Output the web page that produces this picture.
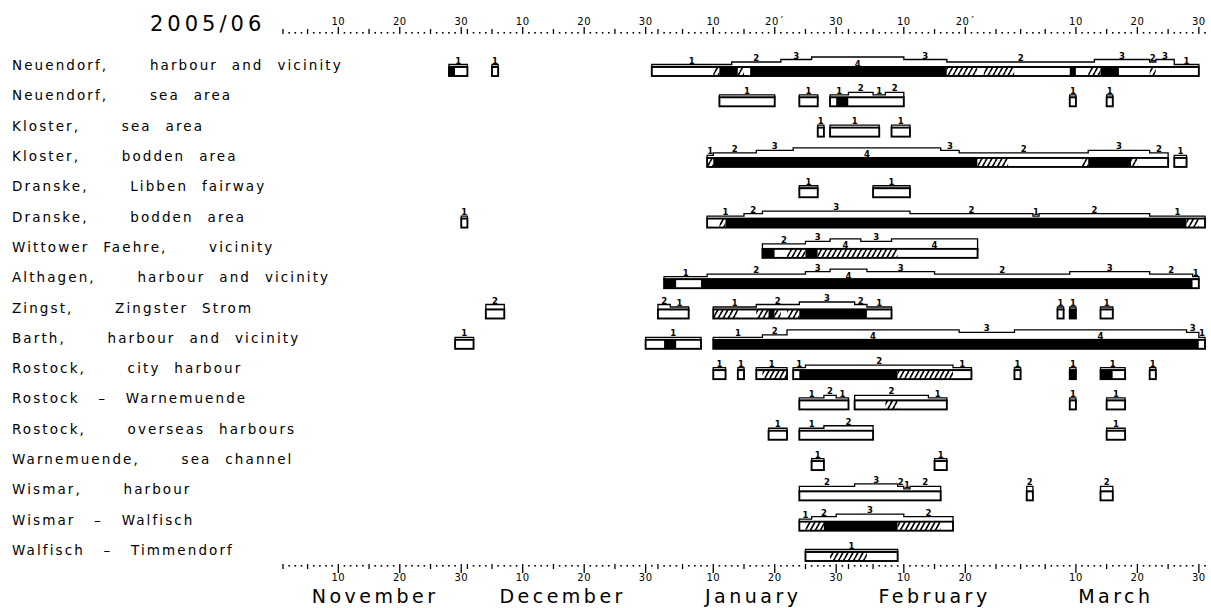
<!DOCTYPE html>
<html>
<head>
<meta charset="utf-8">
<script src="https://cdn.jsdelivr.net/npm/d3@7"></script>
<style>
html, body { margin: 0; padding: 0; background: #fff; }
svg { display: block; }
text { font-family: "DejaVu Sans", sans-serif; }
</style>
</head>
<body>
<div id="chart"></div>
<script>
const width = 1211;
const height = 608;

const season = "2005/06";

const stations = [
	"Neuendorf, harbour and vicinity",
	"Neuendorf, sea area",
	"Kloster, sea area",
	"Kloster, bodden area",
	"Dranske, Libben fairway",
	"Dranske, bodden area",
	"Wittower Faehre, vicinity",
	"Althagen, harbour and vicinity",
	"Zingst, Zingster Strom",
	"Barth, harbour and vicinity",
	"Rostock, city harbour",
	"Rostock – Warnemuende",
	"Rostock, overseas harbours",
	"Warnemuende, sea channel",
	"Wismar, harbour",
	"Wismar – Walfisch",
	"Walfisch – Timmendorf",
];

const months = ["November", "December", "January", "February", "March"];

// ice cover: [station, first day, day after last, type] w = white, b = black, h = hatched
const iceCover = [
	[0, "11-28", "11-29", "b"], [0, "11-29", "12-01", "w"], [0, "12-05", "12-06", "w"],
	[0, "12-31", "01-10", "w"], [0, "01-10", "01-11", "h"], [0, "01-11", "01-14", "b"],
	[0, "01-14", "01-15", "h"], [0, "01-15", "01-16", "w"], [0, "01-16", "02-17", "b"],
	[0, "02-17", "02-22", "h"], [0, "02-22", "02-23", "w"], [0, "02-23", "02-28", "h"],
	[0, "02-28", "03-09", "w"], [0, "03-09", "03-10", "b"], [0, "03-10", "03-12", "w"],
	[0, "03-12", "03-14", "h"], [0, "03-14", "03-17", "b"], [0, "03-17", "03-22", "w"],
	[0, "03-22", "03-23", "h"], [0, "03-23", "03-30", "w"],

	[1, "01-11", "01-20", "w"], [1, "01-24", "01-27", "w"], [1, "01-29", "01-30", "w"],
	[1, "01-30", "02-01", "b"], [1, "02-01", "02-10", "w"], [1, "03-09", "03-10", "w"],
	[1, "03-15", "03-16", "w"],

	[2, "01-27", "01-28", "w"], [2, "01-29", "02-06", "w"], [2, "02-08", "02-11", "w"],

	[3, "01-09", "01-10", "h"], [3, "01-10", "02-22", "b"], [3, "02-22", "02-27", "h"],
	[3, "02-27", "03-11", "w"], [3, "03-11", "03-12", "h"], [3, "03-12", "03-19", "b"],
	[3, "03-19", "03-20", "h"], [3, "03-20", "03-25", "w"], [3, "03-26", "03-28", "w"],

	[4, "01-24", "01-27", "w"], [4, "02-05", "02-11", "w"],

	[5, "11-30", "12-01", "w"], [5, "01-09", "01-11", "w"], [5, "01-11", "01-12", "h"],
	[5, "01-12", "03-28", "b"], [5, "03-28", "03-30", "h"], [5, "03-30", "03-31", "w"],

	[6, "01-18", "01-20", "b"], [6, "01-20", "01-22", "w"], [6, "01-22", "01-25", "h"],
	[6, "01-25", "01-27", "b"], [6, "01-27", "02-09", "h"], [6, "02-09", "02-22", "w"],

	[7, "01-02", "01-04", "b"], [7, "01-04", "01-08", "w"], [7, "01-08", "03-29", "b"],
	[7, "03-29", "03-30", "w"],

	[8, "12-04", "12-07", "w"], [8, "01-01", "01-06", "w"], [8, "01-10", "01-14", "h"],
	[8, "01-14", "01-17", "w"], [8, "01-17", "01-19", "h"], [8, "01-19", "01-20", "b"],
	[8, "01-20", "01-21", "h"], [8, "01-21", "01-22", "w"], [8, "01-22", "01-24", "h"],
	[8, "01-24", "02-04", "b"], [8, "02-04", "02-08", "w"], [8, "03-07", "03-08", "w"],
	[8, "03-09", "03-10", "b"], [8, "03-14", "03-16", "w"],

	[9, "11-29", "12-02", "w"], [9, "12-30", "01-02", "w"], [9, "01-02", "01-04", "b"],
	[9, "01-04", "01-08", "w"], [9, "01-10", "03-30", "b"], [9, "03-30", "03-31", "w"],

	[10, "01-10", "01-12", "w"], [10, "01-14", "01-15", "w"], [10, "01-17", "01-18", "w"],
	[10, "01-18", "01-22", "h"], [10, "01-23", "01-24", "w"], [10, "01-24", "02-09", "b"],
	[10, "02-09", "02-18", "h"], [10, "02-18", "02-21", "w"], [10, "02-28", "03-01", "w"],
	[10, "03-09", "03-10", "b"], [10, "03-14", "03-16", "b"], [10, "03-16", "03-18", "w"],
	[10, "03-22", "03-23", "w"],

	[11, "01-24", "02-01", "w"], [11, "02-02", "02-07", "w"], [11, "02-07", "02-09", "h"],
	[11, "02-09", "02-17", "w"], [11, "03-09", "03-10", "w"], [11, "03-15", "03-18", "w"],

	[12, "01-19", "01-22", "w"], [12, "01-24", "02-05", "w"], [12, "03-15", "03-18", "w"],

	[13, "01-26", "01-28", "w"], [13, "02-15", "02-17", "w"],

	[14, "01-24", "02-16", "w"], [14, "03-02", "03-03", "w"], [14, "03-14", "03-16", "w"],

	[15, "01-24", "01-25", "w"], [15, "01-25", "01-28", "h"], [15, "01-28", "02-09", "b"],
	[15, "02-09", "02-16", "h"], [15, "02-16", "02-18", "w"],

	[16, "01-25", "01-29", "w"], [16, "01-29", "02-04", "h"], [16, "02-04", "02-09", "w"],
];

// ice thickness class: [station, first day, day after last, class]
const iceThickness = [
	[0, "11-28", "12-01", 1], [0, "12-05", "12-06", 1],
	[0, "12-31", "01-13", 1], [0, "01-13", "01-21", 2], [0, "01-21", "01-26", 3],
	[0, "01-26", "02-10", 4], [0, "02-10", "02-17", 3], [0, "02-17", "03-13", 2],
	[0, "03-13", "03-22", 3], [0, "03-22", "03-23", 2], [0, "03-23", "03-26", 3],
	[0, "03-26", "03-30", 1],

	[1, "01-11", "01-20", 1], [1, "01-24", "01-27", 1], [1, "01-29", "02-01", 1],
	[1, "02-01", "02-05", 2], [1, "02-05", "02-07", 1], [1, "02-07", "02-10", 2],
	[1, "03-09", "03-10", 1], [1, "03-15", "03-16", 1],

	[2, "01-27", "01-28", 1], [2, "01-29", "02-06", 1], [2, "02-08", "02-11", 1],

	[3, "01-09", "01-10", 1], [3, "01-10", "01-17", 2], [3, "01-17", "01-23", 3],
	[3, "01-23", "02-16", 4], [3, "02-16", "02-19", 3], [3, "02-19", "03-12", 2],
	[3, "03-12", "03-22", 3], [3, "03-22", "03-25", 2], [3, "03-26", "03-28", 1],

	[4, "01-24", "01-27", 1], [4, "02-05", "02-11", 1],

	[5, "11-30", "12-01", 1], [5, "01-09", "01-15", 1], [5, "01-15", "01-18", 2],
	[5, "01-18", "02-11", 3], [5, "02-11", "03-03", 2], [5, "03-03", "03-04", 1],
	[5, "03-04", "03-22", 2], [5, "03-22", "03-31", 1],

	[6, "01-18", "01-25", 2], [6, "01-25", "01-29", 3], [6, "01-29", "02-03", 4],
	[6, "02-03", "02-08", 3], [6, "02-08", "02-22", 4],

	[7, "01-02", "01-09", 1], [7, "01-09", "01-25", 2], [7, "01-25", "01-29", 3],
	[7, "01-29", "02-04", 4], [7, "02-04", "02-15", 3], [7, "02-15", "03-09", 2],
	[7, "03-09", "03-22", 3], [7, "03-22", "03-29", 2], [7, "03-29", "03-30", 1],

	[8, "12-04", "12-07", 2], [8, "01-01", "01-03", 2], [8, "01-03", "01-06", 1],
	[8, "01-10", "01-17", 1], [8, "01-17", "01-24", 2], [8, "01-24", "02-02", 3],
	[8, "02-02", "02-04", 2], [8, "02-04", "02-08", 1], [8, "03-07", "03-08", 1],
	[8, "03-09", "03-10", 1], [8, "03-14", "03-16", 1],

	[9, "11-29", "12-02", 1], [9, "12-30", "01-08", 1], [9, "01-10", "01-18", 1],
	[9, "01-18", "01-22", 2], [9, "01-22", "02-19", 4], [9, "02-19", "02-28", 3],
	[9, "02-28", "03-28", 4], [9, "03-28", "03-30", 3], [9, "03-30", "03-31", 1],

	[10, "01-10", "01-12", 1], [10, "01-14", "01-15", 1], [10, "01-17", "01-22", 1],
	[10, "01-23", "01-25", 1], [10, "01-25", "02-18", 2], [10, "02-18", "02-21", 1],
	[10, "02-28", "03-01", 1], [10, "03-09", "03-10", 1], [10, "03-14", "03-18", 1],
	[10, "03-22", "03-23", 1],

	[11, "01-24", "01-28", 1], [11, "01-28", "01-30", 2], [11, "01-30", "02-01", 1],
	[11, "02-02", "02-14", 2], [11, "02-14", "02-17", 1], [11, "03-09", "03-10", 1],
	[11, "03-15", "03-18", 1],

	[12, "01-19", "01-22", 1], [12, "01-24", "01-28", 1], [12, "01-28", "02-05", 2],
	[12, "03-15", "03-18", 1],

	[13, "01-26", "01-28", 1], [13, "02-15", "02-17", 1],

	[14, "01-24", "02-02", 2], [14, "02-02", "02-09", 3], [14, "02-09", "02-10", 2],
	[14, "02-10", "02-11", 1], [14, "02-11", "02-16", 2], [14, "03-02", "03-03", 2],
	[14, "03-14", "03-16", 2],

	[15, "01-24", "01-26", 1], [15, "01-26", "01-30", 2], [15, "01-30", "02-10", 3],
	[15, "02-10", "02-18", 2],

	[16, "01-25", "02-09", 1],
];

const parse = d3.utcParse("%Y-%m-%d");
// season runs Nov 2005 - Mar 2006
const day = (s) => parse((+s.slice(0, 2) >= 10 ? "2005-" : "2006-") + s);

const x = d3
	.scaleUtc()
	.domain([day("11-01"), day("03-31")])
	.range([283, 1205]);

const y = d3
	.scaleLinear()
	.domain([0, stations.length - 1])
	.range([67, 552]);

const barH = 9;
const stepH = 2.5;

const svg = d3
	.select("#chart")
	.append("svg")
	.attr("width", width)
	.attr("height", height);

// hatch pattern
const pat = svg
	.append("defs")
	.append("pattern")
	.attr("id", "hatch")
	.attr("patternUnits", "userSpaceOnUse")
	.attr("width", 5)
	.attr("height", 9);
pat.append("rect").attr("width", 5).attr("height", 9).attr("fill", "#fff");
pat.append("path")
	.attr("d", "M0,9 L5,0 M-5,9 L0,0 M5,9 L10,0")
	.attr("stroke", "#000")
	.attr("stroke-width", 1.6);

// title
svg.append("text")
	.attr("x", 150)
	.attr("y", 31)
	.attr("font-size", 21)
	.attr("letter-spacing", 4)
	.text(season);

// station labels (wide gaps after commas, thin gaps round dashes)
svg.append("g")
	.selectAll("text")
	.data(stations)
	.join("text")
	.attr("x", 12)
	.attr("y", (d, i) => y(i) + 3)
	.attr("font-size", 13.5)
	.attr("letter-spacing", 2.1)
	.attr("word-spacing", 7.5)
	.style("white-space", "pre")
	.text((d) => d.replace(/, /g, ",   ").replace(/ – /g, " \u2009–\u2009 "));

// day axis (dots, ticks, labels)
const days = d3.utcDay.range(x.domain()[0], d3.utcDay.offset(x.domain()[1], 1));

function drawAxis(y0, top) {
	const g = svg.append("g");
	days.forEach((d) => {
		const n = d.getUTCDate();
		const px = x(d);
		if (n === 10 || n === 20 || n === 30) {
			g.append("line")
				.attr("x1", px).attr("x2", px)
				.attr("y1", top ? y0 - 6 : y0 - 2)
				.attr("y2", top ? y0 + 1 : y0 + 7)
				.attr("stroke", "#000")
				.attr("stroke-width", 1.3);
			const m = d.getUTCMonth();
			const accent = top && n === 20 && (m === 0 || m === 1);
			g.append("text")
				.attr("x", px)
				.attr("y", top ? y0 - 8 : y0 + 15)
				.attr("text-anchor", "middle")
				.attr("font-size", 10)
				.attr("letter-spacing", 0.5)
				.text(n + (accent ? "´" : ""));
		} else if (n === 1 || n === 5 || n === 15 || n === 25) {
			g.append("line")
				.attr("x1", px).attr("x2", px)
				.attr("y1", top ? y0 - 4 : y0 - 2)
				.attr("y2", top ? y0 + 1 : y0 + 3)
				.attr("stroke", "#000")
				.attr("stroke-width", 1.3);
		} else {
			g.append("rect")
				.attr("x", px - 0.8)
				.attr("y", y0 - 1)
				.attr("width", 1.6)
				.attr("height", 1.6)
				.attr("fill", "#000");
		}
	});
}
drawAxis(33, true);
drawAxis(566, false);

// month names
svg.append("g")
	.selectAll("text")
	.data(months)
	.join("text")
	.attr("x", (d, i) => {
		const a = d3.utcMonth.offset(x.domain()[0], i);
		const b = d3.utcMonth.offset(a, 1);
		return (x(a) + x(b)) / 2;
	})
	.attr("y", 603)
	.attr("text-anchor", "middle")
	.attr("font-size", 19)
	.attr("letter-spacing", 3.5)
	.text((d) => d);

// build boxes from contiguous cover segments
const cover = iceCover.map(([s, a, b, t]) => ({ s, a: day(a), b: day(b), t }));
const thick = iceThickness.map(([s, a, b, k]) => ({ s, a: day(a), b: day(b), k }));

const boxes = [];
d3.group(cover, (d) => d.s).forEach((segs, s) => {
	segs.sort((p, q) => p.a - q.a);
	let cur = null;
	segs.forEach((d) => {
		if (cur && +cur.b === +d.a) {
			cur.b = d.b;
			cur.segs.push(d);
		} else {
			cur = { s, a: d.a, b: d.b, segs: [d] };
			boxes.push(cur);
		}
	});
});

const fillOf = { w: "#fff", b: "#000", h: "url(#hatch)" };

const boxG = svg.append("g");
boxes.forEach((box) => {
	const top = y(box.s);
	const steps = thick
		.filter((d) => d.s === box.s && d.a >= box.a && d.b <= box.b)
		.sort((p, q) => p.a - q.a);

	// thickness step outline above the bar
	let p = `M${x(box.a)},${top}`;
	steps.forEach((d) => {
		const ly = top - stepH * d.k;
		p += `L${x(d.a)},${ly}L${x(d.b)},${ly}`;
	});
	p += `L${x(box.b)},${top}Z`;
	boxG.append("path")
		.attr("d", p)
		.attr("fill", "#fff")
		.attr("stroke", "#000")
		.attr("stroke-width", 1.3);

	// class numbers
	steps.forEach((d) => {
		const ly = top - stepH * d.k;
		boxG.append("text")
			.attr("x", (x(d.a) + x(d.b)) / 2)
			.attr("y", d.k === 4 ? top - 0.5 : ly - 1)
			.attr("text-anchor", "middle")
			.attr("font-size", 8.5)
			.attr("font-weight", "bold")
			.text(d.k);
	});

	// cover segments
	boxG.selectAll(null)
		.data(box.segs)
		.join("rect")
		.attr("x", (d) => x(d.a))
		.attr("y", top)
		.attr("width", (d) => x(d.b) - x(d.a))
		.attr("height", barH)
		.attr("fill", (d) => fillOf[d.t]);

	boxG.append("rect")
		.attr("x", x(box.a))
		.attr("y", top)
		.attr("width", x(box.b) - x(box.a))
		.attr("height", barH)
		.attr("fill", "none")
		.attr("stroke", "#000")
		.attr("stroke-width", 1.9);
});
</script>
</body>
</html>
